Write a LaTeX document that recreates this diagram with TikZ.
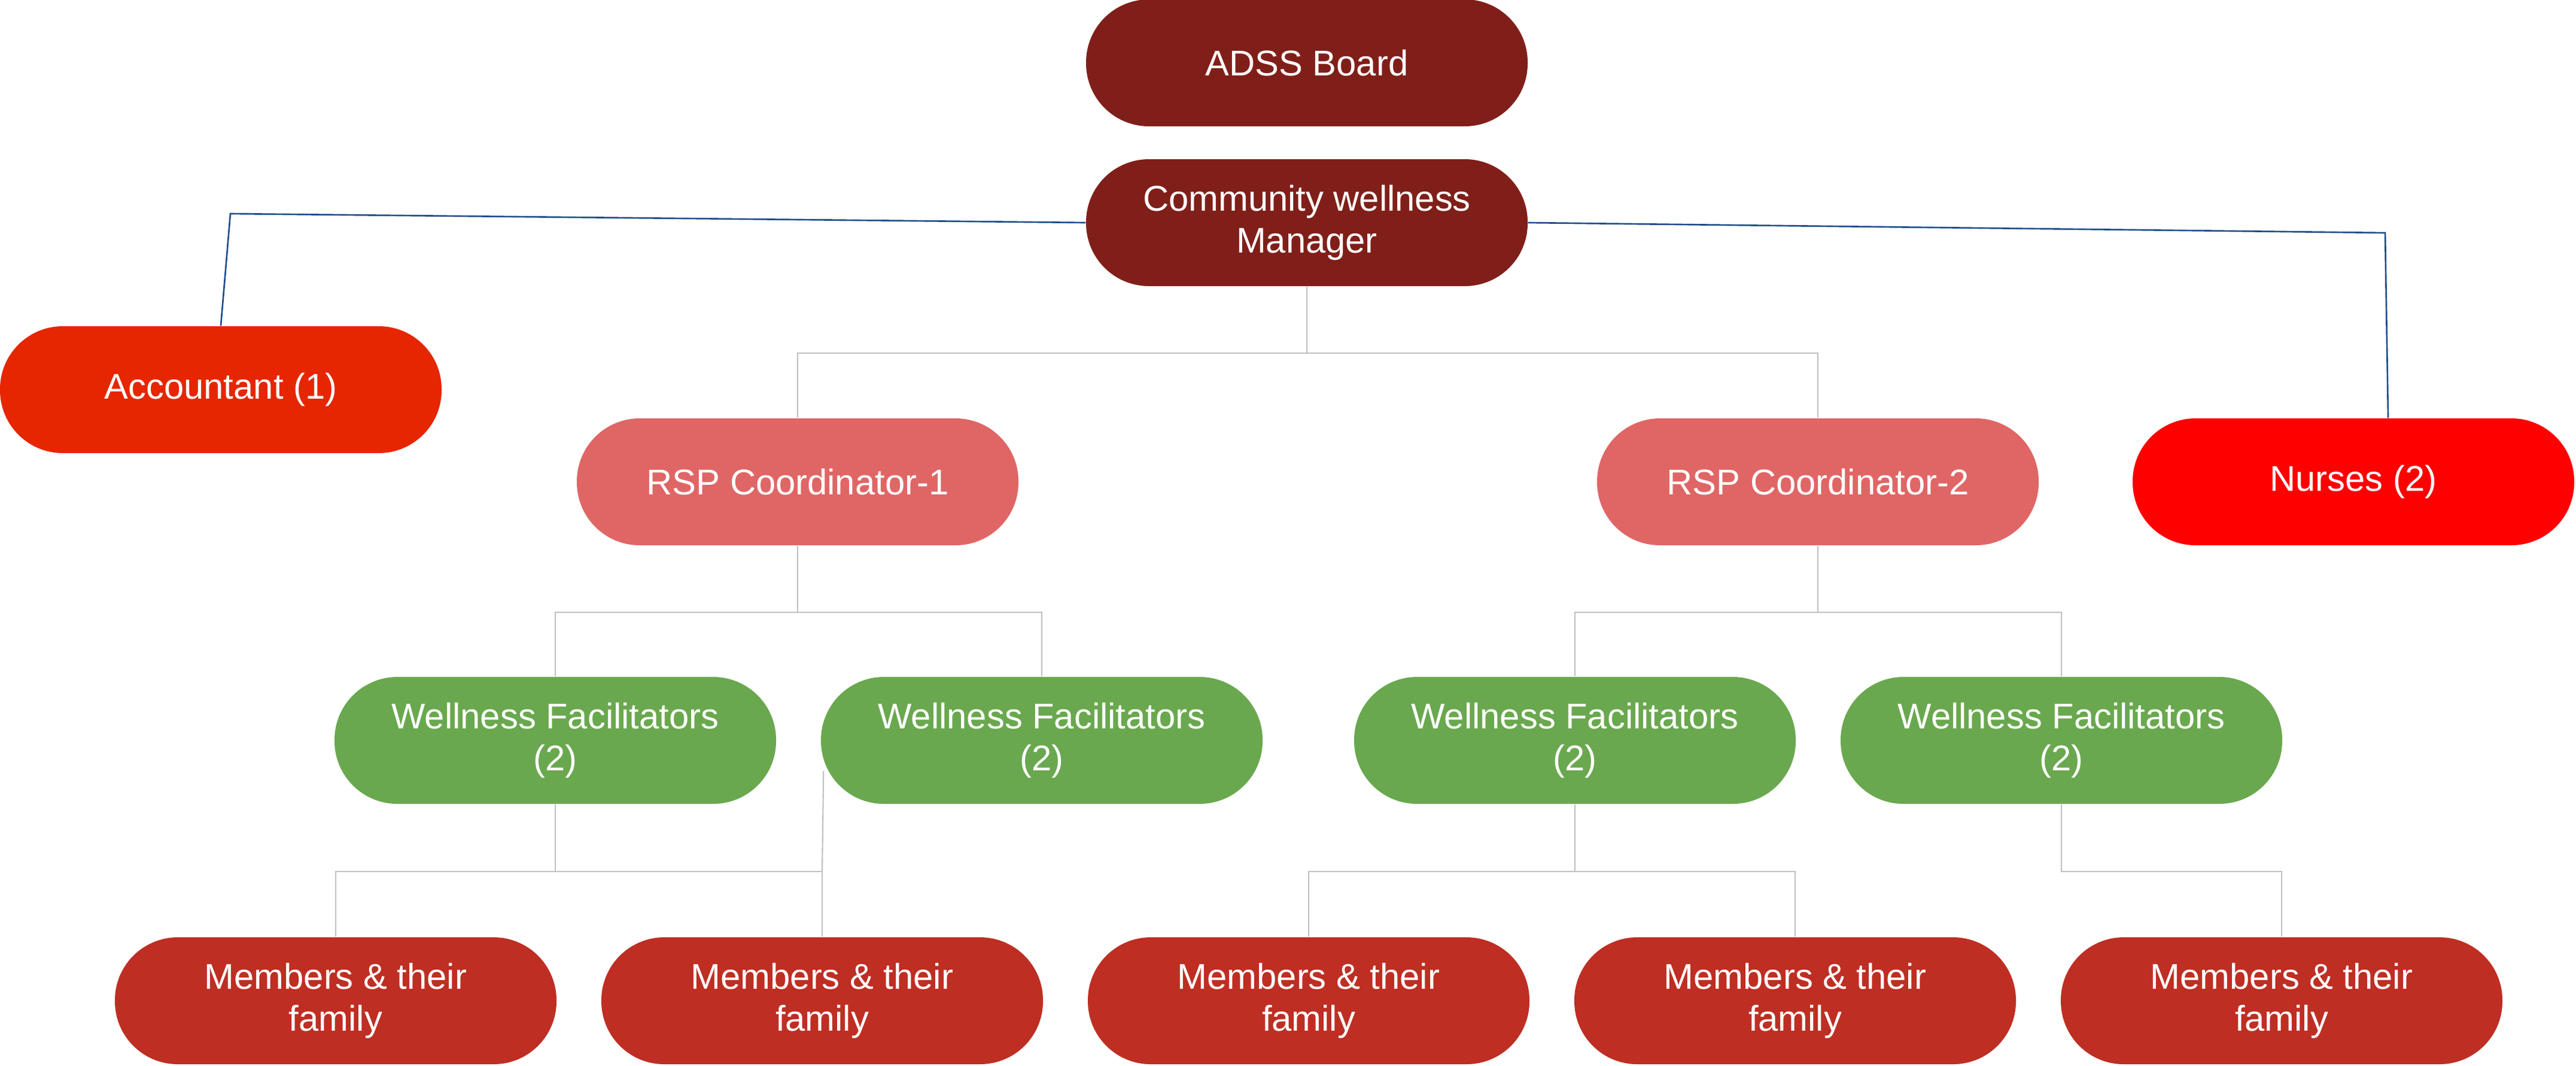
\documentclass[tikz,border=0pt]{standalone}
\usepackage{fontspec}
\setmainfont{Liberation Sans}
\usepackage{tikz}
\usetikzlibrary{shapes,arrows}
\definecolor{orgboard}{RGB}{128,31,25}
\definecolor{orgaccount}{RGB}{230,38,0}
\definecolor{orgcoord}{RGB}{224,102,102}
\definecolor{orgnurse}{RGB}{255,0,0}
\definecolor{orgfacil}{RGB}{106,168,79}
\definecolor{orgmember}{RGB}{190,46,35}
\definecolor{orggray}{RGB}{192,192,192}
\definecolor{orgblue}{RGB}{31,78,137}
\tikzstyle{orgbox}=[rectangle, rounded corners=1.05cm, minimum width=7.38cm, minimum height=2.12cm, inner sep=0pt, align=center, text=white, font=\fontsize{17}{20}\selectfont]
\tikzstyle{grayline}=[draw=orggray, line width=0.6pt]
\tikzstyle{blueline}=[draw=orgblue, line width=0.75pt]
\newcommand{\orgunit}[4]{
	\node[orgbox, fill=#2] (#1) at (#3) {#4};}
\newcommand{\members}[2]{
	\node[orgbox, fill=orgmember] (#1) at (#2) {Members \& their\\family};}
\newcommand{\facil}[2]{
	\node[orgbox, fill=orgfacil] (#1) at (#2) {Wellness Facilitators\\(2)};}

\begin{document}
\begin{tikzpicture}
	\useasboundingbox (0,0) rectangle (43.05,-17.80);

	\orgunit{board}{orgboard}{21.84,-1.05}{ADSS Board}
	\orgunit{mgr}{orgboard}{21.84,-3.72}{Community wellness\\Manager}
	\orgunit{acc}{orgaccount}{3.69,-6.51}{Accountant (1)}
	\orgunit{rspa}{orgcoord}{13.33,-8.05}{RSP Coordinator-1}
	\orgunit{rspb}{orgcoord}{30.38,-8.05}{RSP Coordinator-2}
	\orgunit{nurse}{orgnurse}{39.33,-8.05}{Nurses (2)}

	\facil{wfa}{9.28,-12.37}
	\facil{wfb}{17.41,-12.37}
	\facil{wfc}{26.32,-12.37}
	\facil{wfd}{34.45,-12.37}

	\members{ma}{5.61,-16.72}
	\members{mb}{13.74,-16.72}
	\members{mc}{21.87,-16.72}
	\members{md}{30.00,-16.72}
	\members{me}{38.13,-16.72}

	\draw[blueline] (mgr.west) -- (3.85,-3.57) -- (acc.north);
	\draw[blueline] (mgr.east) -- (39.86,-3.89) -- ([xshift=0.58cm]nurse.north);

	\draw[grayline] (mgr.south) -- ++(0,-1.11) -| (rspa.north);
	\draw[grayline] (mgr.south) -- ++(0,-1.11) -| (rspb.north);
	\draw[grayline] (rspa.south) -- ++(0,-1.11) -| (wfa.north);
	\draw[grayline] (rspa.south) -- ++(0,-1.11) -| (wfb.north);
	\draw[grayline] (rspb.south) -- ++(0,-1.11) -| (wfc.north);
	\draw[grayline] (rspb.south) -- ++(0,-1.11) -| (wfd.north);
	\draw[grayline] (wfa.south) -- ++(0,-1.12) -| (ma.north);
	\draw[grayline] (wfa.south) -- ++(0,-1.12) -| (mb.north);
	\draw[grayline] ([shift={(0.05,-0.51)}]wfb.west) -- (mb.north |- 0,-14.55);
	\draw[grayline] (wfc.south) -- ++(0,-1.12) -| (mc.north);
	\draw[grayline] (wfc.south) -- ++(0,-1.12) -| (md.north);
	\draw[grayline] (wfd.south) -- ++(0,-1.12) -| (me.north);
\end{tikzpicture}
\end{document}
